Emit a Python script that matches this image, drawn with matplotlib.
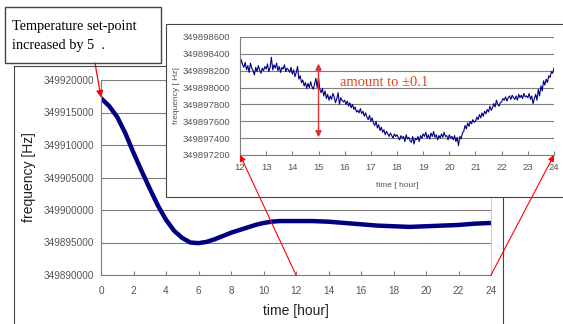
import numpy as np
import matplotlib.pyplot as plt
from matplotlib.patches import Rectangle, ConnectionPatch
from matplotlib.lines import Line2D

# main run: offsets from 349890000 Hz
main_t = [0, 0.5, 1, 1.5, 2, 2.5, 3, 3.5, 4, 4.5, 5, 5.5, 6, 6.5, 7, 7.5, 8, 8.5,
          9, 9.5, 10, 10.5, 11, 12, 13, 14, 15, 16, 17, 18, 19, 20, 21, 22, 23, 24]
main_off = [27200, 26000, 24300, 21800, 18800, 16000, 13300, 10700, 8500, 6800,
            5700, 5000, 4900, 5100, 5500, 6000, 6500, 6900, 7300, 7700, 8000,
            8200, 8300, 8300, 8300, 8200, 8000, 7800, 7600, 7500, 7400, 7500,
            7600, 7700, 7900, 8000]
main_base = 349890000

# zoomed 12-24 h, every 0.05 h, offsets from 349897000 Hz
zoom_off = [
    1250, 1330, 1270, 1240, 1300, 1210, 1260, 1180, 1290, 1230, 1200, 1150, 1240, 1190, 1260, 1210, 1170, 1230, 1200, 1250,
    1220, 1280, 1190, 1240, 1360, 1210, 1270, 1230, 1290, 1200, 1250, 1180, 1240, 1220, 1270, 1190, 1230, 1210, 1180, 1240,
    1160, 1210, 1130, 1180, 1250, 1100, 1140, 1060, 1090, 1020, 1060, 990, 1050, 1000, 1070, 1010, 980, 1040, 1110, 1000,
    1120, 980, 940, 990, 900, 960, 870, 920, 850, 900, 860, 930, 890, 820, 870, 940, 800, 880, 850, 830,
    850, 800, 840, 780, 820, 760, 800, 740, 770, 710, 730, 700, 750, 690, 720, 660, 700, 650, 620, 670,
    600, 640, 580, 550, 600, 520, 560, 490, 530, 470, 500, 440, 480, 450, 420, 460, 430, 400, 450, 420,
    440, 410, 380, 430, 400, 420, 360, 440, 390, 410, 370, 350, 420, 330, 400, 380, 420, 360, 430, 400,
    450, 420, 470, 400, 440, 390, 460, 420, 480, 410, 440, 380, 430, 400, 450, 410, 470, 420, 430, 380,
    440, 400, 420, 380, 430, 360, 410, 310, 420, 390, 460, 480, 550, 510, 580, 540, 600, 570, 620, 590,
    600, 650, 620, 680, 640, 700, 660, 720, 690, 740, 710, 780, 730, 760, 810, 770, 850, 800, 780, 820,
    830, 870, 850, 890, 840, 880, 900, 860, 910, 880, 860, 900, 850, 920, 880, 910, 870, 930, 890, 900,
    880, 930, 860, 900, 810, 870, 920, 850, 980, 900, 1020, 960, 1080, 1030, 1100, 1060, 1140, 1120, 1190, 1170,
    1230]
zoom_base = 349897000
zoom_t = np.arange(len(zoom_off)) * 0.05 + 12

W, H = 563, 324
navy = '#000080'
gray = '#555555'

fig = plt.figure(figsize=(W / 100, H / 100), dpi=100)

def fx(px):
    return px / W

def fy(py):
    return 1 - py / H

# outer frame of main chart
for xs, ys in [([14, 14], [66, 324]), ([14, 503], [66, 66]), ([503, 503], [66, 324])]:
    fig.add_artist(Line2D([fx(x) for x in xs], [fy(y) for y in ys], color='#444444', lw=0.8, zorder=0.5))

# main axes
ax = fig.add_axes([fx(101), fy(275), fx(491) - fx(101), fy(80) - fy(275)], zorder=1)
ax.set_facecolor('none')
ax.plot(main_t, np.array(main_off) + main_base, color=navy, lw=3.2, solid_capstyle='round')
ax.set_xlim(0, 24)
ax.set_ylim(349890000, 349920000)
ax.set_xticks(range(0, 25, 2))
ax.set_yticks(range(349890000, 349920001, 5000))
ax.yaxis.set_major_formatter(plt.FuncFormatter(lambda v, p: '%d' % v))
ax.grid(axis='y', color='#7f7f7f', lw=0.8)
ax.spines['top'].set_visible(False)
ax.spines['right'].set_color('#cccccc')
ax.spines['left'].set_color('#7f7f7f')
ax.spines['bottom'].set_color('#7f7f7f')
ax.tick_params(axis='x', direction='in', length=3, color='#7f7f7f', labelsize=7.2, labelcolor=gray, pad=8)
ax.tick_params(axis='y', length=0, labelsize=7.2, labelcolor=gray, pad=5)
for lab in ax.get_xticklabels() + ax.get_yticklabels():
    lab.set_family('Liberation Sans')
ax.set_xlabel('time [hour]', fontsize=10, family='Liberation Sans', labelpad=6, color='#222222')
ax.set_ylabel('frequency [Hz]', fontsize=10, family='Liberation Sans', labelpad=5, color='#222222')

# inset white panel
fig.add_artist(Rectangle((fx(166), fy(197)), 1 - fx(166) + 0.01, fy(24) - fy(197),
                         facecolor='white', edgecolor='#444444', lw=0.8, zorder=2))

ax_in = fig.add_axes([fx(240), fy(155), fx(554) - fx(240), fy(37) - fy(155)], zorder=3)
ax_in.set_facecolor('white')
ax_in.plot(zoom_t, np.array(zoom_off) + zoom_base, color=navy, lw=0.8)
ax_in.set_xlim(12, 24)
ax_in.set_ylim(349897200, 349898600)
ax_in.set_xticks(range(12, 25))
ax_in.set_yticks(range(349897200, 349898601, 200))
ax_in.yaxis.set_major_formatter(plt.FuncFormatter(lambda v, p: '%d' % v))
ax_in.grid(axis='y', color='#7f7f7f', lw=0.8)
ax_in.spines['top'].set_visible(False)
ax_in.spines['right'].set_visible(False)
ax_in.spines['left'].set_color('#7f7f7f')
ax_in.spines['bottom'].set_color('#7f7f7f')
ax_in.tick_params(axis='x', direction='in', length=3, color='#7f7f7f', labelsize=6.8, labelcolor=gray, pad=6)
ax_in.tick_params(axis='y', length=0, labelsize=6.8, labelcolor=gray, pad=7)
for lab in ax_in.get_xticklabels() + ax_in.get_yticklabels():
    lab.set_family('Liberation Sans')
ax_in.set_xlabel('time [ hour]', fontsize=6, family='Liberation Sans', labelpad=7, color=gray)
ax_in.set_ylabel('frequency [ Hz]', fontsize=6, family='Liberation Sans', labelpad=2, color=gray)

ax_in.annotate('', xy=(15, 349898285), xytext=(15, 349897410),
               arrowprops=dict(arrowstyle='<|-|>', color='#e03030', lw=1.0,
                               mutation_scale=9, shrinkA=0, shrinkB=0))
ax_in.text(15.82, 349898060, 'amount to \u00b10.1', color='#e8401c', fontsize=10.5,
           family='Liberation Serif', va='center', ha='left')

# zoom connectors
for t in [12, 24]:
    con = ConnectionPatch(xyA=(t, 349890000), coordsA=ax.transData,
                          xyB=(t, 349897200), coordsB=ax_in.transData,
                          arrowstyle='-|>', color='red', lw=0.8, mutation_scale=9,
                          shrinkA=0, shrinkB=0, zorder=5)
    fig.add_artist(con)

# annotation box
fig.text(fx(12), fy(36), 'Temperature set-point\nincreased by 5  .', fontsize=10.3,
         family='Liberation Serif', va='center', ha='left', linespacing=1.6, zorder=6)
fig.add_artist(Rectangle((fx(5), fy(63)), fx(161) - fx(5), fy(7) - fy(63),
                         facecolor='white', edgecolor='#444444', lw=1.0, zorder=4))
fig.add_artist(ConnectionPatch(xyA=(fx(95), fy(63)), coordsA=fig.transFigure,
                               xyB=(0, 349917300), coordsB=ax.transData,
                               arrowstyle='-|>', color='red', lw=0.9, mutation_scale=10,
                               shrinkA=0, shrinkB=0, zorder=5))

fig.savefig('out.png', dpi=100)
